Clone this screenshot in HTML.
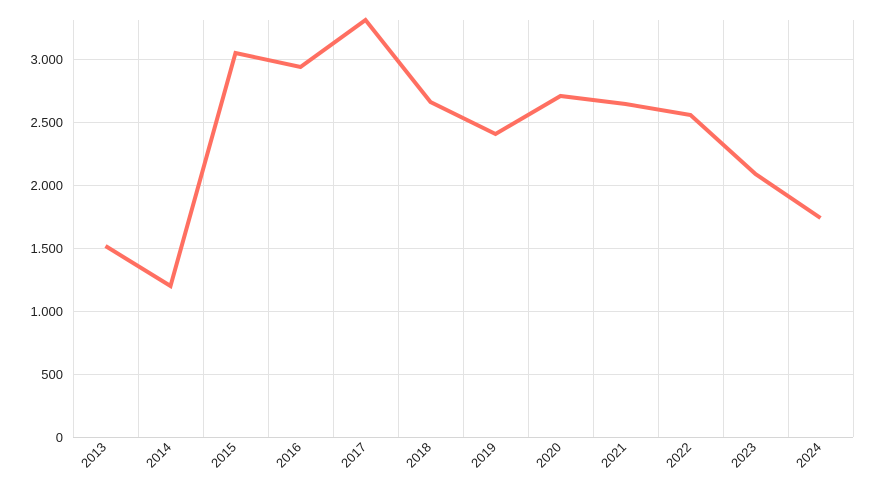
<!DOCTYPE html>
<html><head><meta charset="utf-8"><style>
html,body{margin:0;padding:0;background:#fff;}
svg{display:block;font-family:"Liberation Sans",sans-serif;}
</style></head><body>
<svg width="873" height="500" viewBox="0 0 873 500">
<g stroke="#e3e3e3" stroke-width="1">
<line x1="73" y1="59.5" x2="853" y2="59.5"/>
<line x1="73" y1="122.5" x2="853" y2="122.5"/>
<line x1="73" y1="185.5" x2="853" y2="185.5"/>
<line x1="73" y1="248.5" x2="853" y2="248.5"/>
<line x1="73" y1="311.5" x2="853" y2="311.5"/>
<line x1="73" y1="374.5" x2="853" y2="374.5"/>
<line x1="73.5" y1="20" x2="73.5" y2="437"/>
<line x1="138.5" y1="20" x2="138.5" y2="437"/>
<line x1="203.5" y1="20" x2="203.5" y2="437"/>
<line x1="268.5" y1="20" x2="268.5" y2="437"/>
<line x1="333.5" y1="20" x2="333.5" y2="437"/>
<line x1="398.5" y1="20" x2="398.5" y2="437"/>
<line x1="463.5" y1="20" x2="463.5" y2="437"/>
<line x1="528.5" y1="20" x2="528.5" y2="437"/>
<line x1="593.5" y1="20" x2="593.5" y2="437"/>
<line x1="658.5" y1="20" x2="658.5" y2="437"/>
<line x1="723.5" y1="20" x2="723.5" y2="437"/>
<line x1="788.5" y1="20" x2="788.5" y2="437"/>
<line x1="853.5" y1="20" x2="853.5" y2="437"/>
</g>
<line x1="73" y1="437.5" x2="853" y2="437.5" stroke="#d6d6d6"/>
<g font-size="13" fill="#222" text-anchor="end">
<text x="63" y="64">3.000</text>
<text x="63" y="127">2.500</text>
<text x="63" y="190">2.000</text>
<text x="63" y="253">1.500</text>
<text x="63" y="316">1.000</text>
<text x="63" y="379">500</text>
<text x="63" y="442">0</text>
</g>
<g font-size="13" fill="#222" text-anchor="end">
<text transform="translate(107,448) rotate(-45)">2013</text>
<text transform="translate(172,448) rotate(-45)">2014</text>
<text transform="translate(237,448) rotate(-45)">2015</text>
<text transform="translate(302,448) rotate(-45)">2016</text>
<text transform="translate(367,448) rotate(-45)">2017</text>
<text transform="translate(432,448) rotate(-45)">2018</text>
<text transform="translate(497,448) rotate(-45)">2019</text>
<text transform="translate(562,448) rotate(-45)">2020</text>
<text transform="translate(627,448) rotate(-45)">2021</text>
<text transform="translate(692,448) rotate(-45)">2022</text>
<text transform="translate(757,448) rotate(-45)">2023</text>
<text transform="translate(822,448) rotate(-45)">2024</text>
</g>
<polyline fill="none" stroke="#ff6f61" stroke-width="4" stroke-linejoin="miter"
points="105.5,246 170.5,286 235.5,53 300.5,67 365.5,20 430.5,102 495.5,134 560.5,96 625.5,104 690.5,115 755.5,174 820.5,218"/>
</svg>
</body></html>
